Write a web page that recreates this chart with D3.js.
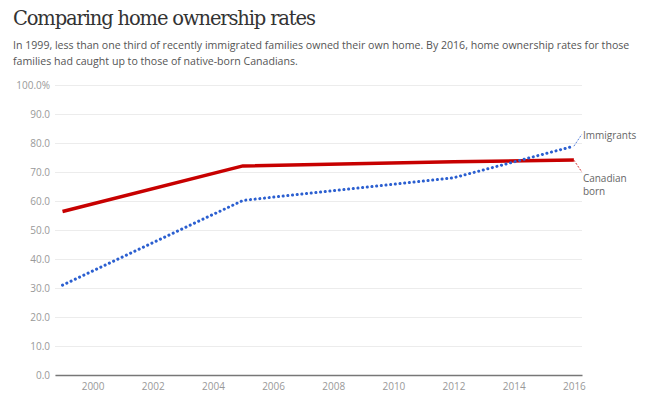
<!DOCTYPE html>
<html><head><meta charset="utf-8">
<script src="https://cdn.jsdelivr.net/npm/d3@7"></script>
<style>
html,body{margin:0;padding:0;background:#fff;}
svg{display:block;}
</style></head>
<body>
<script>
const years = [1999, 2005, 2012, 2016];
const canadianBorn = [56.4, 72.1, 73.5, 74.1];
const immigrants = [31.0, 60.2, 68.0, 78.9];
const xTicks = [2000, 2002, 2004, 2006, 2008, 2010, 2012, 2014, 2016];
const yTicks = [0, 10, 20, 30, 40, 50, 60, 70, 80, 90, 100];
const title = "Comparing home ownership rates";
const subtitle = ["In 1999, less than one third of recently immigrated families owned their own home. By 2016, home ownership rates for those",
                  "families had caught up to those of native-born Canadians."];

const W = 661, H = 395;
const svg = d3.select("body").append("svg").attr("width", W).attr("height", H);

const x = d3.scaleLinear().domain([1998.75, 2016.27]).range([55, 582]);
const y = d3.scaleLinear().domain([0, 100]).range([375, 85]);

svg.append("text").attr("x", 13).attr("y", 25)
  .attr("font-family", "'DejaVu Serif', serif").attr("font-size", 19.5).attr("fill", "#333")
  .attr("letter-spacing", -1.15)
  .text(title);

svg.selectAll("text.sub").data(subtitle).enter().append("text").attr("class", "sub")
  .attr("x", 13).attr("y", (d, i) => 49 + i * 16)
  .attr("font-family", "'Open Sans', sans-serif").attr("font-size", 10.6).attr("fill", "#555")
  .text(d => d);

// gridlines
const yAxis = d3.axisLeft(y).tickValues(yTicks)
  .tickFormat(d => d === 100 ? "100.0%" : d.toFixed(1))
  .tickSize(-(582 - 55)).tickPadding(5);
const gy = svg.append("g").attr("transform", "translate(55,0)").call(yAxis);
gy.select(".domain").remove();
gy.selectAll(".tick line").attr("stroke", "#ececec").attr("stroke-width", 1);
gy.selectAll(".tick text").attr("fill", "#999").attr("font-family", "'Open Sans', sans-serif").attr("font-size", 10);

const xAxis = d3.axisBottom(x).tickValues(xTicks).tickFormat(d3.format("d")).tickSize(0).tickPadding(8);
const gx = svg.append("g").attr("transform", "translate(0,375)").call(xAxis);
gx.select(".domain").attr("stroke", "#777").attr("stroke-width", 1.5);
gx.selectAll(".tick text").attr("fill", "#999").attr("font-family", "'Open Sans', sans-serif").attr("font-size", 10);

const line = d3.line().x(d => x(d[0])).y(d => y(d[1]));
const redData = years.map((yr, i) => [yr, canadianBorn[i]]);
const blueData = years.map((yr, i) => [yr, immigrants[i]]);

svg.append("path").datum(redData).attr("d", line)
  .attr("fill", "none").attr("stroke", "#c70000").attr("stroke-width", 3.5).attr("stroke-linejoin", "round");
svg.append("path").datum(blueData).attr("d", line)
  .attr("fill", "none").attr("stroke", "#2b5fd0").attr("stroke-width", 3)
  .attr("stroke-dasharray", "0.1 4.6").attr("stroke-linecap", "round");

// labels with leaders
const last = years.length - 1;
const bx = x(years[last]), byv = y(immigrants[last]), ry = y(canadianBorn[last]);
svg.append("line").attr("x1", bx).attr("y1", byv).attr("x2", bx + 8).attr("y2", byv - 12)
  .attr("stroke", "#2b5fd0").attr("stroke-width", 0.8).attr("stroke-dasharray", "2 1.5");
svg.append("line").attr("x1", bx).attr("y1", ry).attr("x2", bx + 8).attr("y2", ry + 12)
  .attr("stroke", "#c70000").attr("stroke-width", 0.8).attr("stroke-dasharray", "2 1.5");

const lab = svg.append("g").attr("font-family", "'Open Sans', sans-serif").attr("font-size", 10).attr("fill", "#666");
lab.append("text").attr("x", bx + 9).attr("y", byv - 7).text("Immigrants");
lab.append("text").attr("x", bx + 9).attr("y", ry + 22).text("Canadian");
lab.append("text").attr("x", bx + 9).attr("y", ry + 35).text("born");
</script>
</body></html>
